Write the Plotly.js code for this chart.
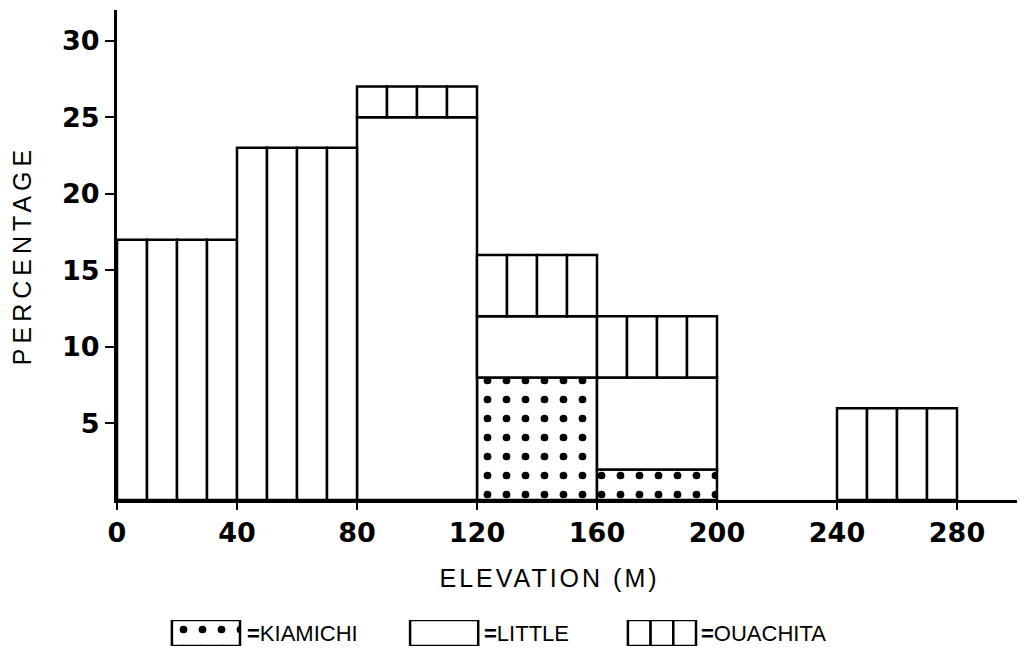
<!DOCTYPE html>
<html>
<head>
<meta charset="utf-8">
<script src="https://cdn.plot.ly/plotly-3.0.1.min.js"></script>
<style>
html, body { margin: 0; padding: 0; background: #fff; }
#chart { width: 1021px; height: 666px; }
.ytitle { letter-spacing: 5px; }
.annotation[data-index="0"] text { letter-spacing: 3px; }
</style>
</head>
<body>
<div id="chart"></div>
<script>
// ---- data ----
const binStart = [0, 40, 80, 120, 160, 240];   // elevation bin start (m)
const binWidth = 40;
const kiamichi = [0, 0, 0, 8, 2, 0];           // % (bottom segment)
const little   = [0, 0, 25, 4, 6, 0];          // % (middle segment)
const ouachita = [17, 23, 2, 4, 4, 6];         // % (top segment)
const xTickVals = [0, 40, 80, 120, 160, 200, 240, 280];
const yTickVals = [5, 10, 15, 20, 25, 30];
const seriesNames = ['KIAMICHI', 'LITTLE', 'OUACHITA'];

// ---- styling ----
const black = '#000';
const outline = { color: black, width: 2.5 };
const dotPattern = { shape: '.', fgcolor: black, bgcolor: '#fff', fgopacity: 1, size: 19, solidity: 0.13, fillmode: 'replace' };
const subDivisions = 4; // Ouachita bars are drawn as 4 ruled columns

const traces = [];

// Kiamichi (dotted)
(function () {
  const x = [], y = [], base = [];
  binStart.forEach((s, i) => {
    if (kiamichi[i] > 0) { x.push(s + binWidth / 2); y.push(kiamichi[i]); base.push(0); }
  });
  traces.push({ type: 'bar', name: seriesNames[0], x, y, base, width: binWidth,
    marker: { color: '#fff', line: outline, pattern: dotPattern }, hoverinfo: 'skip' });
})();

// Little (plain)
(function () {
  const x = [], y = [], base = [];
  binStart.forEach((s, i) => {
    if (little[i] > 0) { x.push(s + binWidth / 2); y.push(little[i]); base.push(kiamichi[i]); }
  });
  traces.push({ type: 'bar', name: seriesNames[1], x, y, base, width: binWidth,
    marker: { color: '#fff', line: outline }, hoverinfo: 'skip' });
})();

// Ouachita (vertically ruled)
(function () {
  const x = [], y = [], base = [];
  const w = binWidth / subDivisions;
  binStart.forEach((s, i) => {
    if (ouachita[i] > 0) {
      for (let j = 0; j < subDivisions; j++) {
        x.push(s + w / 2 + j * w); y.push(ouachita[i]); base.push(kiamichi[i] + little[i]);
      }
    }
  });
  traces.push({ type: 'bar', name: seriesNames[2], x, y, base, width: w,
    marker: { color: '#fff', line: outline }, hoverinfo: 'skip' });
})();

// ---- custom legend keys drawn on a hidden helper axis (same x scale) ----
const keyStart = [18.3, 97.7, 170.3];
const keyWidth = 22.7;
traces.push({ type: 'bar', x: [keyStart[0] + keyWidth / 2], y: [1], base: [0], width: keyWidth,
  xaxis: 'x2', yaxis: 'y2', marker: { color: '#fff', line: outline, pattern: dotPattern }, hoverinfo: 'skip' });
traces.push({ type: 'bar', x: [keyStart[1] + keyWidth / 2], y: [1], base: [0], width: keyWidth,
  xaxis: 'x2', yaxis: 'y2', marker: { color: '#fff', line: outline }, hoverinfo: 'skip' });
(function () {
  const n = 3, w = keyWidth / n, x = [], y = [], base = [];
  for (let j = 0; j < n; j++) { x.push(keyStart[2] + w / 2 + j * w); y.push(1); base.push(0); }
  traces.push({ type: 'bar', x, y, base, width: w, xaxis: 'x2', yaxis: 'y2',
    marker: { color: '#fff', line: outline }, hoverinfo: 'skip' });
})();

const tickFont = { family: 'DejaVu Sans', size: 27, color: black, weight: 'bold' };
const labelFont = { family: 'Liberation Sans, Arial, sans-serif', size: 25, color: black };
const legendFont = { family: 'Liberation Sans, Arial, sans-serif', size: 22, color: black };

const layout = {
  width: 1021, height: 666,
  margin: { l: 117, r: 4, t: 10, b: 10 },
  paper_bgcolor: '#fff', plot_bgcolor: 'rgba(0,0,0,0)',
  showlegend: false,
  barmode: 'overlay',
  xaxis: {
    range: [0, 300], domain: [0, 1], anchor: 'y',
    tickmode: 'array', tickvals: xTickVals, ticktext: xTickVals.map(String),
    ticks: 'outside', ticklen: 7, tickwidth: 2, tickcolor: black,
    showline: true, linewidth: 3, linecolor: black,
    showgrid: false, zeroline: false, tickfont: tickFont, fixedrange: true
  },
  yaxis: {
    range: [0, 32], domain: [(656 - 500) / 646, 1], anchor: 'x',
    tickmode: 'array', tickvals: yTickVals, ticktext: yTickVals.map(String),
    ticks: 'outside', ticklen: 9, tickwidth: 2, tickcolor: black,
    showline: true, linewidth: 3, linecolor: black,
    showgrid: false, zeroline: false, tickfont: tickFont, fixedrange: true,
    title: { text: 'PERCENTAGE', font: labelFont, standoff: 24 }
  },
  xaxis2: { range: [0, 300], domain: [0, 1], anchor: 'y2', visible: false, fixedrange: true },
  yaxis2: { range: [0, 1], domain: [(656 - 646) / 646, (656 - 620) / 646], anchor: 'x2', visible: false, fixedrange: true },
  annotations: [
    { text: 'ELEVATION (M)', xref: 'paper', yref: 'paper', x: (549 - 117) / 900, y: (656 - 578) / 646,
      xanchor: 'center', yanchor: 'middle', showarrow: false, font: labelFont },
    { text: '<b>=</b>' + seriesNames[0], xref: 'x2', yref: 'y2', x: keyStart[0] + keyWidth + 1.6, y: 0.5,
      xanchor: 'left', yanchor: 'middle', showarrow: false, font: legendFont },
    { text: '<b>=</b>' + seriesNames[1], xref: 'x2', yref: 'y2', x: keyStart[1] + keyWidth + 1.3, y: 0.5,
      xanchor: 'left', yanchor: 'middle', showarrow: false, font: legendFont },
    { text: '<b>=</b>' + seriesNames[2], xref: 'x2', yref: 'y2', x: keyStart[2] + keyWidth + 1.1, y: 0.5,
      xanchor: 'left', yanchor: 'middle', showarrow: false, font: legendFont }
  ]
};

Plotly.newPlot('chart', traces, layout, { displayModeBar: false, staticPlot: true });
</script>
</body>
</html>
